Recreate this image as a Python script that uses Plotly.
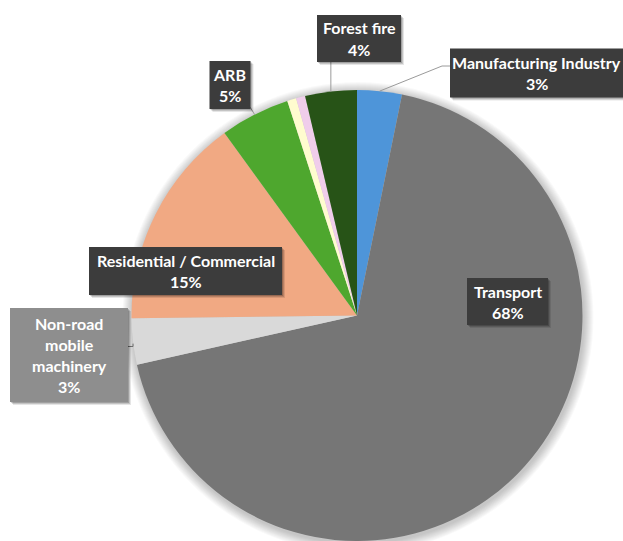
import math
import plotly.graph_objects as go

# Emission shares by source (percent), drawn clockwise from 12 o'clock
sources = ["Manufacturing Industry", "Transport", "Non-road mobile machinery",
           "Residential / Commercial", "ARB", "Other (a)", "Other (b)", "Forest fire"]
shares = [3.2, 68.3, 3.3, 15.2, 5.0, 0.65, 0.65, 3.7]
slice_colors = ["#4E95D9", "#767676", "#D9D9D9", "#F1A983",
                "#4EA72E", "#FFFCCF", "#F0CDEB", "#275317"]

# Text shown in each data-label box (percent line is appended from the data)
label_text = {
    "Manufacturing Industry": ["Manufacturing Industry"],
    "Transport": ["Transport"],
    "Non-road mobile machinery": ["Non-road", "mobile", "machinery"],
    "Residential / Commercial": ["Residential / Commercial"],
    "ARB": ["ARB"],
    "Forest fire": ["Forest fire"],
}

# ---- layout / styling -------------------------------------------------------
W, H = 623, 541
CX, CY, R = 357.0, 315.5, 225.5          # pie centre and radius in pixels

# label boxes: centre x, centre y, width, height (pixels)
box_geom = {
    "Manufacturing Industry": (536.5, 73.0, 173, 49),
    "Transport": (507.5, 301.5, 81, 47),
    "Non-road mobile machinery": (69.0, 355.0, 118, 94),
    "Residential / Commercial": (185.5, 271.0, 193, 48),
    "ARB": (230.0, 85.0, 41, 48),
    "Forest fire": (359.0, 38.5, 84, 47),
}
box_fill = {"Non-road mobile machinery": "#8E8E8E"}
DARK_BOX = "#3C3C3C"
LINE_STEP = 21.0
FONT = "Lato"
FONT_SIZE = 16


def px(x):
    return x / W


def py(y):
    return 1 - y / H


total = sum(shares)


def edge_point(name, r=R):
    """Point on the pie rim at the angular middle of a slice (pixels)."""
    i = sources.index(name)
    start = sum(shares[:i]) / total * 360.0
    mid = math.radians(start + shares[i] / total * 180.0)
    return CX + r * math.sin(mid), CY - r * math.cos(mid)


fig = go.Figure(go.Pie(
    labels=sources,
    values=shares,
    marker=dict(colors=slice_colors, line=dict(width=0)),
    sort=False,
    direction="clockwise",
    rotation=0,
    textinfo="none",
    hoverinfo="label+percent",
    showlegend=False,
    domain=dict(x=[px(CX - R), px(CX + R)], y=[py(CY + R), py(CY - R)]),
))

shapes = []
annotations = []

# soft glow around the pie
for k in range(1, 11):
    rr = R + k
    shapes.append(dict(type="circle", xref="paper", yref="paper", layer="below",
                       x0=px(CX - rr + 1), x1=px(CX + rr + 1),
                       y0=py(CY + rr + 2), y1=py(CY - rr + 2),
                       line=dict(width=0), fillcolor="rgba(0,0,0,0.022)"))

# leader lines from label boxes to the slice rims
LEAD = dict(color="#9A9A9A", width=1)
ex, ey = edge_point("Forest fire")
shapes.append(dict(type="line", xref="paper", yref="paper", layer="above",
                   x0=px(ex), y0=py(62), x1=px(ex), y1=py(ey), line=LEAD))
ex, ey = edge_point("Manufacturing Industry")
shapes.append(dict(type="path", xref="paper", yref="paper", layer="above",
                   path=f"M {px(450)} {py(66)} L {px(442)} {py(66)} L {px(ex)} {py(ey)}",
                   line=LEAD))
ex, ey = edge_point("ARB")
shapes.append(dict(type="line", xref="paper", yref="paper", layer="above",
                   x0=px(250), y0=py(107), x1=px(ex), y1=py(ey), line=LEAD))
ex, ey = edge_point("Non-road mobile machinery")
shapes.append(dict(type="path", xref="paper", yref="paper", layer="above",
                   path=f"M {px(125)} {py(346.5)} L {px(ex)} {py(346.5)} L {px(ex)} {py(ey + 2)}",
                   line=dict(color="#6E6E6E", width=1)))

# label boxes with drop shadows, and their text
for name, lines in label_text.items():
    bx, by, bw, bh = box_geom[name]
    x0, x1, y0, y1 = bx - bw / 2, bx + bw / 2, by - bh / 2, by + bh / 2
    for dx, a in ((3, 0.10), (2, 0.14), (1, 0.18)):
        shapes.append(dict(type="rect", xref="paper", yref="paper", layer="above",
                           x0=px(x0 + dx), x1=px(x1 + dx), y0=py(y1 + dx), y1=py(y0 + dx),
                           line=dict(width=0), fillcolor=f"rgba(0,0,0,{a})"))
    shapes.append(dict(type="rect", xref="paper", yref="paper", layer="above",
                       x0=px(x0), x1=px(x1), y0=py(y1), y1=py(y0),
                       line=dict(width=0), fillcolor=box_fill.get(name, DARK_BOX)))
    pct = round(shares[sources.index(name)] / total * 100)
    all_lines = lines + [f"{pct}%"]
    n = len(all_lines)
    for j, t in enumerate(all_lines):
        ty = by + (j - (n - 1) / 2) * LINE_STEP
        annotations.append(dict(xref="paper", yref="paper", x=px(bx), y=py(ty),
                                text=f"<b>{t}</b>", showarrow=False,
                                xanchor="center", yanchor="middle",
                                font=dict(family=FONT, size=FONT_SIZE, color="white")))

fig.update_layout(
    width=W, height=H,
    margin=dict(l=0, r=0, t=0, b=0),
    paper_bgcolor="white",
    plot_bgcolor="white",
    shapes=shapes,
    annotations=annotations,
)

fig.write_html("out.html")
